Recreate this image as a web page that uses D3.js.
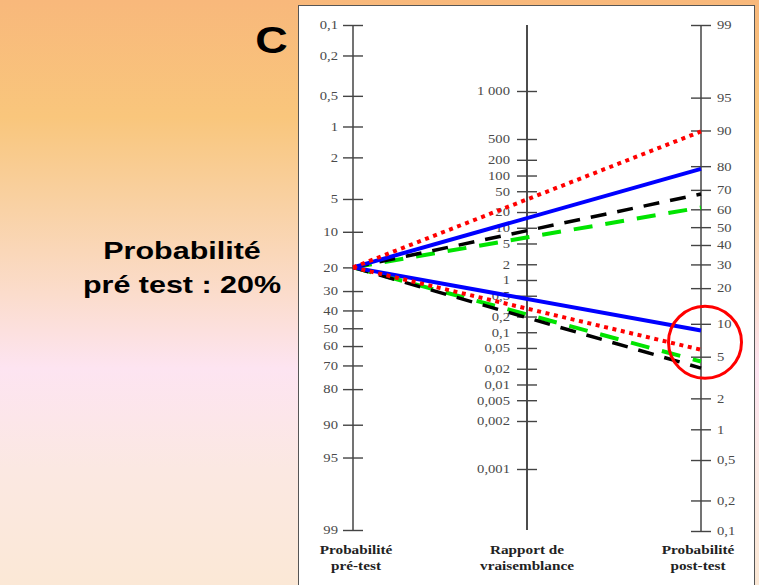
<!DOCTYPE html>
<html>
<head>
<meta charset="utf-8">
<script src="https://d3js.org/d3.v7.min.js"></script>
<style>
  html, body { margin: 0; padding: 0; background: #fff; }
  svg { display: block; }
</style>
<title>Nomogramme de Fagan</title>
</head>
<body>
<div id="chart"></div>
<script>
const width = 759, height = 585;

// pre-test probability (%) and the post-test probabilities read at the right axis
const preTest = 20;
const tests = ["rouge", "bleu", "noir", "vert"];
const postTestPositive = [89.8, 79, 68, 61];
const postTestNegative = [5.8, 8.7, 3.9, 4.5];
const circledValue = 6.8; // where the red circle sits on the post-test axis

// tick values
const preTicks = [0.1, 0.2, 0.5, 1, 2, 5, 10, 20, 30, 40, 50, 60, 70, 80, 90, 95, 99];
const lrTicks = [1000, 500, 200, 100, 50, 20, 10, 5, 2, 1, 0.5, 0.2, 0.1, 0.05, 0.02, 0.01, 0.005, 0.002, 0.001];
const postTicks = [99, 95, 90, 80, 70, 60, 50, 40, 30, 20, 10, 5, 2, 1, 0.5, 0.2, 0.1];

// line styles, in the same order as tests
const styles = {
  rouge: { color: "#ff0000", width: 4, dash: "4,4.6", order: 3 },
  bleu: { color: "#0000ff", width: 4, dash: null, order: 2 },
  noir: { color: "#000000", width: 3.5, dash: "16,11", order: 1 },
  vert: { color: "#00e400", width: 4, dash: "19,13", order: 0 }
};

const xPre = 353, xLR = 527, xPost = 701;
const yTop = 25, yBottom = 531;
const stretch = 1.22; // the lettering in the picture is slightly wide

const logit = p => Math.log((p / 100) / (1 - p / 100));

const yPre = d3.scaleLinear().domain([logit(0.1), logit(99)]).range([yTop, 530]);
const yPost = d3.scaleLinear().domain([logit(99), logit(0.1)]).range([yTop, yBottom]);
const yLR = d3.scaleLog().domain([0.001, 0.002, 500, 1000]).range([469, 421, 139, 91]);

const fmt = d => d === 1000 ? "1 000" : String(d).replace(".", ",");

const svg = d3.select("#chart").append("svg")
  .attr("width", width).attr("height", height);

// background gradient
const grad = svg.append("defs").append("linearGradient")
  .attr("id", "bg").attr("x1", 0).attr("y1", 0).attr("x2", 0).attr("y2", 1);
[["0", "#f8b87b"], ["0.2", "#f9c67c"], ["0.36", "#f9d2a6"], ["0.5", "#fbdccb"],
 ["0.63", "#fde4f1"], ["0.8", "#fbe8e2"], ["1", "#fbe8d6"]].forEach(s => {
  grad.append("stop").attr("offset", s[0]).attr("stop-color", s[1]);
});
svg.append("rect").attr("width", width).attr("height", height).attr("fill", "url(#bg)");

// left-hand labels
const sans = "'Liberation Sans', Arial, sans-serif";
svg.append("text")
  .attr("transform", `translate(271.5,53) scale(1.25,1)`)
  .attr("text-anchor", "middle")
  .style("font-family", sans).style("font-weight", "bold").style("font-size", "36px")
  .text("C");
[["Probabilité", 259], ["pré test : 20%", 293]].forEach(l => {
  svg.append("text")
    .attr("transform", `translate(182,${l[1]}) scale(1.27,1)`)
    .attr("text-anchor", "middle")
    .style("font-family", sans).style("font-weight", "bold").style("font-size", "24px")
    .text(l[0]);
});

// white panel
svg.append("rect")
  .attr("x", 298.5).attr("y", 5.5).attr("width", 456).attr("height", 600)
  .attr("fill", "#fff").attr("stroke", "#555").attr("stroke-width", 1);

const serif = "'Liberation Serif', 'Times New Roman', serif";

function drawAxis(axis, x, labelShift, anchor) {
  const g = svg.append("g").attr("transform", `translate(${x},0)`).call(axis);
  g.select(".domain").remove();
  g.selectAll(".tick line").attr("x1", -10).attr("x2", 10)
    .attr("stroke", "#444").attr("stroke-width", 1.4);
  g.selectAll(".tick text")
    .attr("x", null)
    .attr("transform", `translate(${labelShift},0) scale(${stretch},1)`)
    .attr("text-anchor", anchor)
    .attr("fill", "#4a4a4a")
    .style("font-family", serif).style("font-size", "12px");
  g.attr("font-family", null).attr("font-size", null);
  return g;
}

// axis lines
svg.append("line").attr("x1", xPre).attr("x2", xPre).attr("y1", yTop).attr("y2", 530)
  .attr("stroke", "#444").attr("stroke-width", 1.5);
svg.append("line").attr("x1", xLR).attr("x2", xLR).attr("y1", yTop).attr("y2", 530)
  .attr("stroke", "#111").attr("stroke-width", 1.5);
svg.append("line").attr("x1", xPost).attr("x2", xPost).attr("y1", yTop).attr("y2", yBottom)
  .attr("stroke", "#444").attr("stroke-width", 1.5);

drawAxis(d3.axisLeft(yPre)
  .tickValues(preTicks.map(logit)).tickFormat((d, i) => fmt(preTicks[i]))
  .tickSizeOuter(0), xPre, -15, "end");

drawAxis(d3.axisLeft(yLR).tickValues(lrTicks).tickFormat(fmt).tickSizeOuter(0),
  xLR, -17, "end");

drawAxis(d3.axisRight(yPost)
  .tickValues(postTicks.map(logit)).tickFormat((d, i) => fmt(postTicks[i]))
  .tickSizeOuter(0), xPost, 16, "start");

// axis titles
const titles = [
  { x: 356, lines: ["Probabilité", "pré-test"] },
  { x: xLR, lines: ["Rapport de", "vraisemblance"] },
  { x: 698, lines: ["Probabilité", "post-test"] }
];
titles.forEach(t => {
  t.lines.forEach((s, i) => {
    svg.append("text")
      .attr("transform", `translate(${t.x},${554 + i * 16}) scale(${stretch},1)`)
      .attr("text-anchor", "middle")
      .attr("fill", "#222")
      .style("font-family", serif).style("font-weight", "bold").style("font-size", "12.5px")
      .text(s);
  });
});

// nomogram lines
const lines = [];
tests.forEach((t, i) => {
  lines.push({ test: t, post: postTestPositive[i] });
  lines.push({ test: t, post: postTestNegative[i] });
});
lines.sort((a, b) => styles[a.test].order - styles[b.test].order);

svg.append("g").selectAll("line")
  .data(lines)
  .join("line")
  .attr("x1", xPre).attr("y1", yPre(logit(preTest)))
  .attr("x2", xPost).attr("y2", d => yPost(logit(d.post)))
  .attr("stroke", d => styles[d.test].color)
  .attr("stroke-width", d => styles[d.test].width)
  .attr("stroke-dasharray", d => styles[d.test].dash);

// red circle around the negative results
svg.append("ellipse")
  .attr("cx", xPost + 4).attr("cy", yPost(logit(circledValue)))
  .attr("rx", 36.5).attr("ry", 36)
  .attr("fill", "none").attr("stroke", "#ff0000").attr("stroke-width", 3);
</script>
</body>
</html>
